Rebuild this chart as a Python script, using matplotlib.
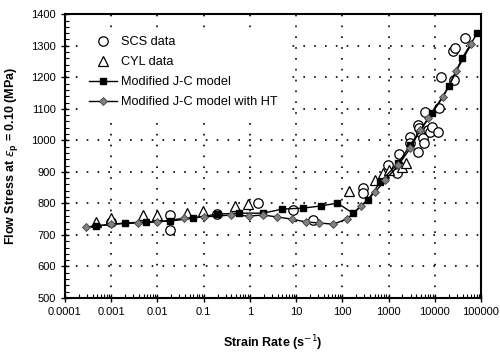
import matplotlib
matplotlib.use("Agg")
import matplotlib.pyplot as plt
from matplotlib.ticker import LogLocator, MultipleLocator, FixedLocator, NullFormatter

plt.rcParams['font.family'] = ['Liberation Sans', 'DejaVu Sans']

# SCS data (open circles)
scs_rate = [0.001, 0.019, 0.019, 0.195, 1.5, 8.7, 23,
            280, 280, 980, 1540, 1710, 2950, 2950, 4370, 4600, 4370, 5100,
            5600, 5870, 6150, 7200, 7900, 8800, 11800, 12600, 13700,
            26300, 25000, 27700, 45500]
scs_stress = [741, 763, 715, 766, 801, 779, 747,
              849, 833, 921, 896, 956, 1010, 991, 1048, 1039, 963, 1023,
              1007, 991, 1089, 1032, 1026, 1042, 1026, 1102, 1200,
              1191, 1283, 1292, 1324]

# CYL data (open triangles)
cyl_rate = [0.00047, 0.001, 0.0049, 0.01, 0.044, 0.098, 0.48, 0.91,
            140, 513, 760, 1000, 2000, 2400]
cyl_stress = [741, 753, 763, 763, 769, 776, 792, 798,
              839, 874, 896, 905, 915, 928]

# Modified J-C model
jc_rate = [0.00047, 0.002, 0.0056, 0.019, 0.059, 0.195, 0.59, 1.95, 5.0,
           14, 35, 78, 170, 360, 660, 1620, 2950, 8700, 20400, 38900, 83000]
jc_stress = [728, 738, 741, 744, 753, 766, 769, 769, 782,
             785, 792, 801, 769, 811, 868, 928, 985, 1086, 1172, 1260, 1340]

# Modified J-C model with HT
ht_rate = [0.000285, 0.001, 0.0038, 0.01, 0.038, 0.1, 0.39, 0.95, 1.95, 3.9,
           8.1, 16.6, 31.6, 63, 126, 257, 513, 850, 1620, 2950, 4790, 7240,
           15100, 28800, 61700]
ht_stress = [725, 734, 738, 741, 753, 757, 763, 760, 763, 757,
             750, 741, 738, 734, 750, 792, 836, 874, 921, 975, 1032, 1070,
             1137, 1219, 1305]

x_ticks = [0.0001, 0.001, 0.01, 0.1, 1, 10, 100, 1000, 10000, 100000]
x_labels = ['0.0001', '0.001', '0.01', '0.1', '1', '10', '100', '1000',
            '10000', '100000']

fig = plt.figure(figsize=(5, 3.56), dpi=100)
ax = fig.add_axes([0.13, 0.163, 0.832, 0.797])

ax.plot(scs_rate, scs_stress, linestyle='none', marker='o', ms=6.8,
        mfc='white', mec='black', mew=0.9, label='SCS data', zorder=3)
ax.plot(cyl_rate, cyl_stress, linestyle='none', marker='^', ms=7,
        mfc='white', mec='black', mew=0.9, label='CYL data', zorder=3)
ax.plot(jc_rate, jc_stress, color='black', lw=1, marker='s', ms=4.5,
        mfc='black', mec='black', label='Modified J-C model', zorder=4)
ax.plot(ht_rate, ht_stress, color='black', lw=1, marker='D', ms=4,
        mfc='#808080', mec='#404040', mew=0.6,
        label='Modified J-C model with HT', zorder=4)

ax.set_xscale('log')
ax.set_xlim(0.0001, 100000)
ax.set_ylim(500, 1400)
ax.xaxis.set_major_locator(FixedLocator(x_ticks))
ax.set_xticklabels(x_labels)
ax.xaxis.set_minor_locator(LogLocator(base=10, subs=range(2, 10), numticks=20))
ax.xaxis.set_minor_formatter(NullFormatter())
ax.yaxis.set_major_locator(MultipleLocator(100))
ax.yaxis.set_minor_locator(MultipleLocator(20))

ax.tick_params(which='major', direction='inout', length=6, width=1,
               labelsize=8, top=False, right=False)
ax.tick_params(which='minor', direction='in', length=3, width=0.8,
               top=False, right=False)

ax.grid(True, which='major', color='black', linestyle=(0, (1, 5.5)), lw=1.2)
for s in ax.spines.values():
    s.set_linewidth(1.5)

ax.set_xlabel('Strain Rate (s$^{-1}$)', fontsize=9, fontweight='bold', labelpad=12)
ax.set_ylabel(r'Flow Stress at $\epsilon_\mathregular{p}$ = 0.10 (MPa)',
              fontsize=9, fontweight='bold', labelpad=8)

leg = ax.legend(loc='upper left', bbox_to_anchor=(0.046, 0.94), frameon=True,
                fontsize=9.2, numpoints=1, handlelength=2.2, labelspacing=0.62,
                handletextpad=0.3, borderaxespad=0, borderpad=0.4,
                fancybox=False, framealpha=1, facecolor='white',
                edgecolor='white')
leg.set_zorder(5)

fig.savefig('out.png', dpi=100)
